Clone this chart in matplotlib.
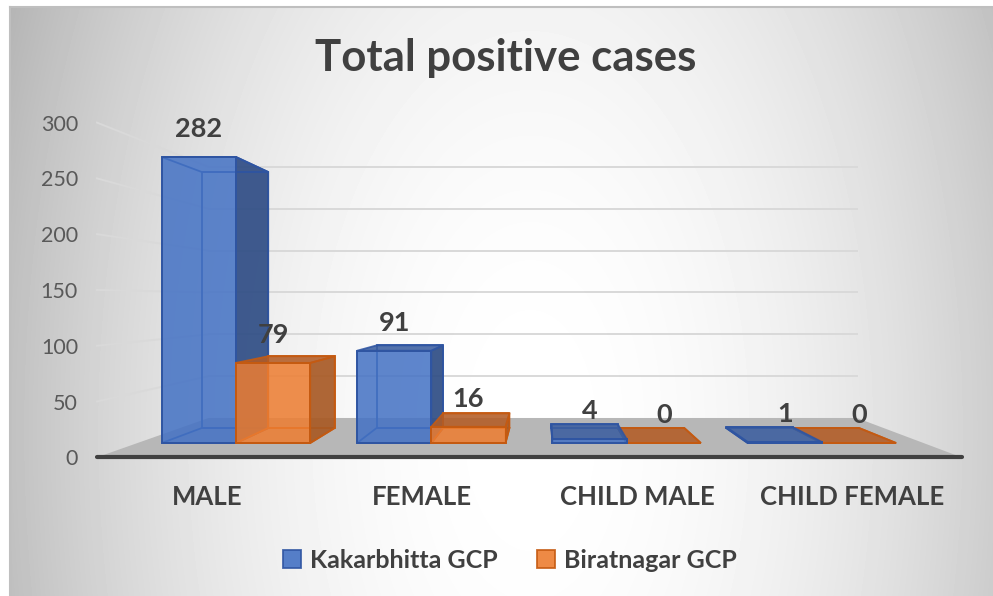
import numpy as np
import matplotlib
matplotlib.use("Agg")
import matplotlib.pyplot as plt
from matplotlib.patches import Polygon, Patch
from matplotlib.transforms import IdentityTransform

# data
categories = ["MALE", "FEMALE", "CHILD MALE", "CHILD FEMALE"]
series_names = ["Kakarbhitta GCP", "Biratnagar GCP"]
kakarbhitta = [282, 91, 4, 1]
biratnagar = [79, 16, 0, 0]
yticks = [0, 50, 100, 150, 200, 250, 300]

W, H = 993, 596
fig = plt.figure(figsize=(W / 100, H / 100), dpi=100)
fig.patch.set_facecolor("white")

# chart area background (radial-ish gray gradient)
bg = fig.add_axes([10 / W, 0, (W - 10) / W, (H - 7) / H], zorder=-10)
yy, xx = np.mgrid[0:H - 7, 0:W - 10]
r2 = ((xx + 10 - 530) / 520.0) ** 2 + ((yy + 7 - 430) / 950.0) ** 2
shade = 255 - 62 * np.clip(r2, 0, 1.25)
bg.imshow(shade, cmap="gray", vmin=0, vmax=255, aspect="auto", interpolation="bilinear")
bg.set_axis_off()
fig.add_artist(plt.Line2D([10 / W, 10 / W], [0, (H - 7) / H], color="#bfbfbf", lw=1.5))
fig.add_artist(plt.Line2D([10 / W, 1], [(H - 7) / H, (H - 7) / H], color="#bfbfbf", lw=1.5))

# main axes = plane of the bar front faces
step = 195.3            # px per category
x_c0 = 236.0            # px of category 0
xlim = (-0.9, 3.8)
y0_px, px_per_unit = 443.0, 1.0142
ax_left = x_c0 + xlim[0] * step
ax_w = (xlim[1] - xlim[0]) * step
ax_bottom = H - y0_px
ax_h = 300 * px_per_unit
ax = fig.add_axes([ax_left / W, ax_bottom / H, ax_w / W, ax_h / H])
ax.set_xlim(*xlim)
ax.set_ylim(0, 300)
ax.set_axis_off()
ax.patch.set_alpha(0)

VP = np.array([543.0, H - 300.0])   # vanishing point (display px)
k_front, k_back, k_wall = 1.10, 0.895, 0.825
x_left, x_right = -0.504, 3.52
ident = IdentityTransform()
txt = "#404040"


def proj(x, v, k):
    p = ax.transData.transform((x, v))
    return VP + k * (p - VP)


def poly(pts, **kw):
    p = Polygon(np.array(pts), closed=True, transform=ident, clip_on=False, **kw)
    ax.add_patch(p)


# floor
poly([proj(x_left, 0, k_front), proj(x_right, 0, k_front),
      proj(x_right, 0, k_wall), proj(x_left, 0, k_wall)],
     facecolor="#b7b7b7", edgecolor="none", zorder=1)

# gridlines: side wall (slanted) and back wall
grid_c = "#d9d9d9"
for v in yticks[1:]:
    a, b = proj(x_left, v, k_front), proj(x_left, v, k_wall)
    ax.plot([a[0], b[0]], [a[1], b[1]], color=grid_c, lw=1.4, transform=ident, clip_on=False, zorder=0.5)
    c = proj(x_right, v, k_wall)
    ax.plot([b[0], c[0]], [b[1], c[1]], color=grid_c, lw=1.4, transform=ident, clip_on=False, zorder=0.5)

# floor front edge
a, b = proj(x_left, 0, k_front), proj(x_right, 0, k_front)
ax.plot([a[0], b[0]], [a[1], b[1]], color="#404040", lw=3, transform=ident, clip_on=False,
        solid_capstyle="round", zorder=2)

# y tick labels
for v in yticks:
    p = proj(x_left, v, k_front)
    ax.text(p[0] - 19, p[1] - 2, str(v), transform=ident, ha="right", va="center",
            fontsize=15.5, color="#595959", family="Lato")

styles = [
    dict(face="#4472c4", edge="#2f55a2", side="#2f4d85", top="#3c5fa0"),
    dict(face="#ed7d31", edge="#c55a11", side="#a85a25", top="#b35c25"),
]
bw = 0.38
offsets = [-bw / 2, bw / 2]
series = [kakarbhitta, biratnagar]


def draw_bar(xc, v, st, z):
    x0, x1 = xc - bw / 2, xc + bw / 2
    F = [proj(x0, 0, 1), proj(x1, 0, 1), proj(x1, v, 1), proj(x0, v, 1)]
    B = [proj(x0, 0, k_back), proj(x1, 0, k_back), proj(x1, v, k_back), proj(x0, v, k_back)]
    lw = 1.3
    # back and bottom outlines
    poly(B, facecolor="none", edgecolor=st["edge"], lw=lw, zorder=z)
    poly([F[0], F[1], B[1], B[0]], facecolor="none", edgecolor=st["edge"], lw=lw, zorder=z)
    # visible side face
    if F[1][0] < VP[0]:
        poly([F[1], F[2], B[2], B[1]], facecolor=st["side"], edgecolor=st["edge"], lw=lw,
             alpha=0.92, zorder=z + 0.1)
    elif F[0][0] > VP[0]:
        poly([F[0], F[3], B[3], B[0]], facecolor=st["side"], edgecolor=st["edge"], lw=lw,
             alpha=0.92, zorder=z + 0.1)
    # top face (filled only when seen from above)
    if F[3][1] < VP[1]:
        poly([F[3], F[2], B[2], B[3]], facecolor=st["top"], edgecolor=st["edge"], lw=lw,
             alpha=0.88, zorder=z + 0.2)
    else:
        poly([F[3], F[2], B[2], B[3]], facecolor="none", edgecolor=st["edge"], lw=lw, zorder=z + 0.2)
    # front face
    poly(F, facecolor=st["face"], edgecolor=st["edge"], lw=lw, alpha=0.86, zorder=z + 0.3)
    poly(F, facecolor="none", edgecolor=st["edge"], lw=lw, zorder=z + 0.35)
    # value label
    top = proj(xc, v, 1)
    ax.text(top[0], top[1] + 28, str(v), transform=ident, ha="center", va="center",
            fontsize=19.5, fontweight="bold", color=txt, family="Lato", zorder=10)


for i in range(len(categories)):
    order = [0, 1] if proj(i, 0, 1)[0] < VP[0] else [1, 0]
    for n, j in enumerate(order):
        draw_bar(i + offsets[j], series[j][i], styles[j], 3 + n)
    p = proj(i, 0, k_front)
    ax.text(p[0] + 2, p[1] - 40, categories[i], transform=ident, ha="center", va="center",
            fontsize=18.5, fontweight="bold", color=txt, family="Lato")

# title
fig.text(506 / W, 1 - 58 / H, "Total positive cases", ha="center", va="center",
         fontsize=31.5, fontweight="bold", color=txt, family="Lato")

# legend
handles = [Patch(facecolor=st["face"], edgecolor=st["edge"], alpha=0.9, lw=1.3) for st in styles]
leg = fig.legend(handles, series_names, loc="center", bbox_to_anchor=(510 / W, 1 - 560 / H),
                 ncol=2, frameon=False, handlelength=0.7, handleheight=0.7,
                 handletextpad=0.35, columnspacing=1.6,
                 prop=dict(family="Lato", weight="bold", size=18))
for t in leg.get_texts():
    t.set_color(txt)

fig.savefig("out.png", dpi=100)
